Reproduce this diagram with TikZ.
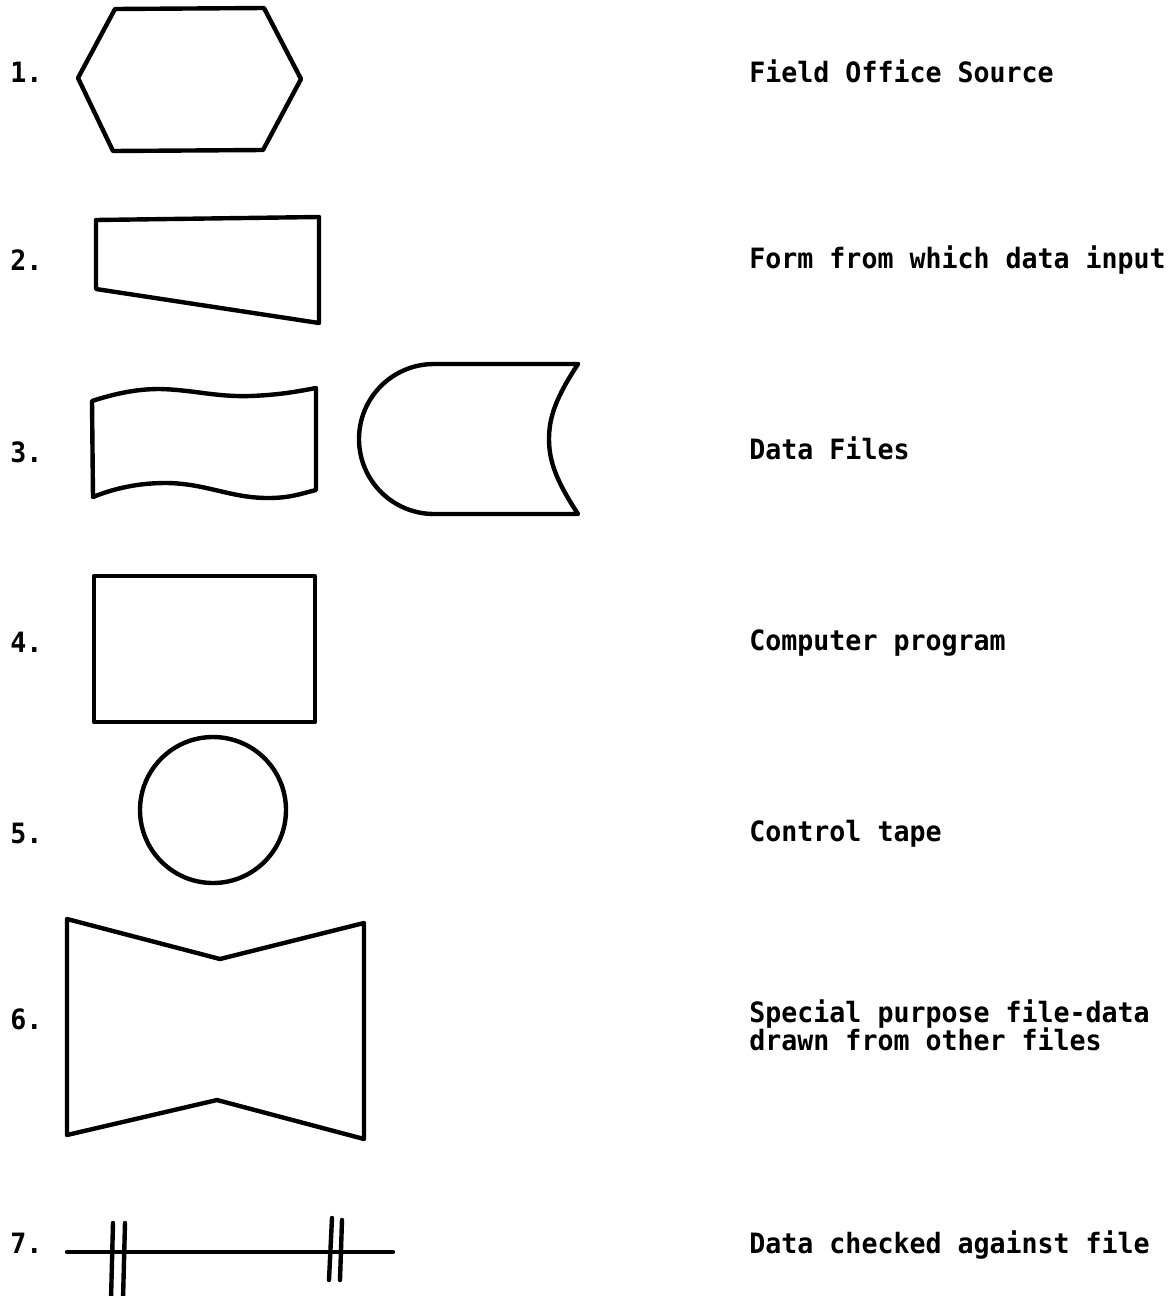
\documentclass[tikz,border=0pt]{standalone}
\usepackage{fontspec}
\newfontfamily\twfont{DejaVu Sans Mono}[FakeStretch=0.95]
\begin{document}
\begin{tikzpicture}[x=0.5pt,y=-0.5pt,
  shapeline/.style={draw=black,line width=2.2pt,line join=round,line cap=round},
  num/.style={anchor=base west,inner sep=0pt,font=\twfont\bfseries\fontsize{14pt}{11.5pt}\selectfont},
  lbl/.style={anchor=base west,inner sep=0pt,font=\twfont\bfseries\fontsize{14pt}{11.5pt}\selectfont}]
\useasboundingbox[fill=white] (0,0) rectangle (1174,1296);

% numbers
\node[num] (n1) at (10,82) {1.};
\node[num] (n2) at (10,270) {2.};
\node[num] (n3) at (10,462) {3.};
\node[num] (n4) at (10,652) {4.};
\node[num] (n5) at (10,843) {5.};
\node[num] (n6) at (10,1029) {6.};
\node[num] (n7) at (10,1253) {7.};

% labels
\node[lbl] (l1) at (749,82) {Field Office Source};
\node[lbl] (l2) at (749,268) {Form from which data input};
\node[lbl] (l3) at (749,459) {Data Files};
\node[lbl] (l4) at (749,650) {Computer program};
\node[lbl] (l5) at (749,841) {Control tape};
\node[lbl] (l6a) at (749,1022) {Special purpose file-data};
\node[lbl] (l6b) at (749,1050) {drawn from other files};
\node[lbl] (l7) at (749,1253) {Data checked against file};

% 1. hexagon
\draw[shapeline] (115,9) -- (264,8) -- (301,79) -- (263,150) -- (113,151) -- (78,78) -- cycle;

% 2. manual input form
\draw[shapeline] (96,220) -- (319,217) -- (319,323) -- (96,289) -- cycle;

% 3. wavy document
\draw[shapeline] (92,401) .. controls (120,392) and (140,389) .. (160,389)
  .. controls (195,390) and (215,397) .. (250,396)
  .. controls (280,395) and (300,391) .. (316,388)
  -- (316,490)
  .. controls (300,494) and (290,498) .. (268,498)
  .. controls (230,498) and (205,483) .. (165,483)
  .. controls (135,483) and (110,490) .. (93,497) -- cycle;

% 3. stored data (D shape)
\draw[shapeline] (578,364) -- (434,364)
  .. controls (392.6,364) and (359,397.6) .. (359,439)
  .. controls (359,480.4) and (392.6,514) .. (434,514)
  -- (578,514)
  .. controls (557,482) and (549,462) .. (549,439)
  .. controls (549,416) and (557,396) .. (578,364);

% 4. rectangle
\draw[shapeline] (94,576) rectangle (315,722);

% 5. circle
\draw[shapeline] (213,810) circle[radius=36.5pt];

% 6. bow-tie shape
\draw[shapeline] (67,919) -- (220,959) -- (364,923) -- (364,1139) -- (217,1100) -- (67,1135) -- cycle;

% 7. line with double ticks
\coordinate (la) at (67,1252);
\coordinate (lb) at (393,1252);
\draw[shapeline] (la) -- (lb);
\draw[shapeline] (113,1223) -- (111,1300);
\draw[shapeline] (125,1223) -- (123,1300);
\draw[shapeline] (332,1218) -- (329,1280);
\draw[shapeline] (342,1220) -- (340,1280);
\end{tikzpicture}
\end{document}
